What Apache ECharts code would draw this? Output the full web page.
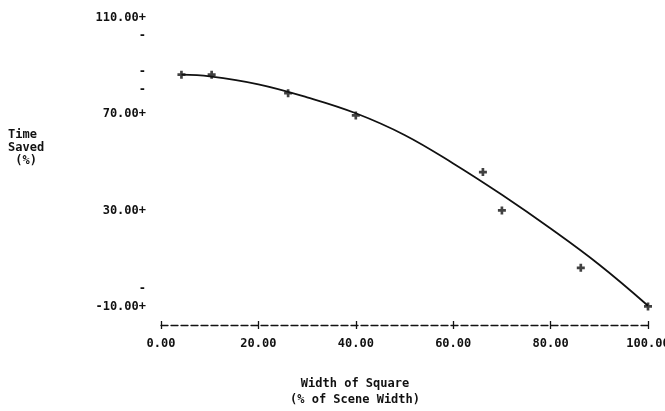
<!DOCTYPE html>
<html>
<head>
<meta charset="utf-8">
<script src="https://cdn.jsdelivr.net/npm/echarts@6/dist/echarts.min.js"></script>
<style>
  html, body { margin: 0; padding: 0; background: #fff; }
  #chart { width: 665px; height: 411px; }
</style>
</head>
<body>
<div id="chart"></div>
<script>
// Measured points: width of square (% of scene width) vs. time saved (%)
const widthPct = [4.2, 10.4, 26.1, 40.0, 66.1, 70.0, 86.2, 100.0];
const timeSaved = [86.3, 86.3, 78.6, 69.4, 45.9, 30.0, 6.2, -9.8];

// Fitted trend curve, sampled along its length
const fitWidth = [4.2, 10, 20, 30, 40, 50, 60, 70, 80, 90, 100];
const fitSaved = [86.3, 85.6, 82.3, 76.9, 70.3, 61.3, 49.5, 36.5, 22.5, 7.5, -9.5];

// Y-axis labelled ticks and the small rule marks on the axis
const yMajorTicks = [110, 70, 30, -10];
const yRuleMarks = [102.5, 87.5, 80, -2.5];

const FONT = '"DejaVu Sans Mono", "Liberation Mono", monospace';
const INK = '#111';

const chart = echarts.init(document.getElementById('chart'), null, { renderer: 'canvas' });

const near = (arr, v) => arr.some(t => Math.abs(t - v) < 1e-6);

chart.setOption({
  animation: false,
  backgroundColor: '#fff',
  grid: { left: 161, right: 17, top: 17.5, bottom: 86, outerBoundsMode: 'none', containLabel: false },
  xAxis: [
    {
      type: 'value',
      min: 0, max: 100, interval: 20,
      splitLine: { show: false },
      axisLine: { show: true, onZero: false, lineStyle: { color: INK, width: 1.3, type: [7, 3] } },
      axisTick: { show: true, length: 4, lineStyle: { color: INK, width: 1.3 } },
      axisLabel: {
        margin: 13,
        fontFamily: FONT, fontSize: 12, fontWeight: 'bold', color: INK,
        formatter: v => v.toFixed(2)
      }
    },
    {
      // upper half of the "+" tick marks on the x axis
      type: 'value',
      position: 'bottom',
      min: 0, max: 100, interval: 20,
      splitLine: { show: false },
      axisLine: { show: false, onZero: false },
      axisTick: { show: true, inside: true, length: 4, lineStyle: { color: INK, width: 1.3 } },
      axisLabel: { show: false }
    }
  ],
  yAxis: {
    type: 'value',
    min: -17.5, max: 110, interval: 2.5,
    splitLine: { show: false },
    axisLine: { show: false },
    axisTick: { show: false },
    axisLabel: {
      interval: 0,
      margin: 15,
      fontFamily: FONT, fontSize: 12, fontWeight: 'bold', color: INK,
      formatter: v => {
        if (near(yMajorTicks, v)) return v.toFixed(2) + '+';
        if (near(yRuleMarks, v)) return '-';
        return '';
      }
    }
  },
  graphic: [
    {
      type: 'text', x: 8, y: 128,
      style: {
        text: 'Time\nSaved\n (%)',
        font: 'bold 12px ' + FONT, fill: INK, lineHeight: 13,
        align: 'left', verticalAlign: 'top'
      }
    },
    {
      type: 'text', x: 355, y: 376,
      style: {
        text: 'Width of Square\n(% of Scene Width)',
        font: 'bold 12px ' + FONT, fill: INK, lineHeight: 16,
        align: 'center', verticalAlign: 'top'
      }
    }
  ],
  series: [
    {
      name: 'Fit',
      type: 'line',
      data: fitWidth.map((x, i) => [x, fitSaved[i]]),
      smooth: 0.4,
      showSymbol: false,
      lineStyle: { color: INK, width: 1.8 },
      z: 2
    },
    {
      name: 'Observed',
      type: 'scatter',
      data: widthPct.map((x, i) => [x, timeSaved[i]]),
      symbol: 'path://M2,0H4V2H6V4H4V6H2V4H0V2H2Z',
      symbolSize: 8,
      clip: false,
      itemStyle: { color: INK },
      z: 3
    }
  ]
});
</script>
</body>
</html>
